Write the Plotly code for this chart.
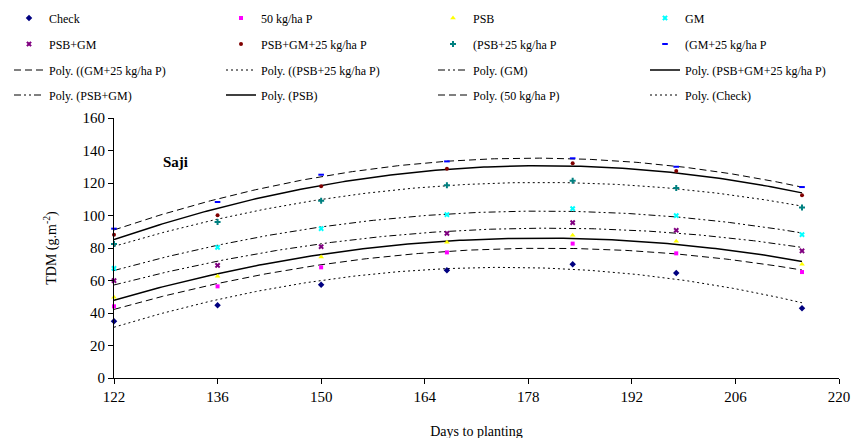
import numpy as np
import plotly.graph_objects as go

# ---- data ----
days = [122, 136, 150, 167, 184, 198, 215]

check        = [34.9, 44.7, 57.4, 66.3, 70.0, 64.6, 42.9]
p50          = [44.1, 56.4, 68.1, 77.3, 82.7, 76.7, 65.2]
psb          = [49.7, 62.6, 74.5, 83.5, 87.8, 84.1, 70.0]
gm           = [67.5, 80.4, 91.9, 100.5, 104.2, 99.9, 88.2]
psb_gm       = [59.9, 69.3, 80.8, 89.0, 95.6, 90.9, 78.2]
psb_gm_p25   = [88.2, 100.1, 118.0, 128.8, 132.1, 127.4, 112.4]
psb_p25      = [82.5, 96.0, 109.1, 118.6, 121.4, 116.9, 105.0]
gm_p25       = [91.9, 108.3, 125.1, 133.3, 135.2, 130.0, 117.5]

x_ticks = [122, 136, 150, 164, 178, 192, 206, 220]
y_ticks = [0, 20, 40, 60, 80, 100, 120, 140, 160]

FONT = "Liberation Serif"

series = [
    # name, values, color, symbol, size
    ("Check", check, "#000080", "diamond", 5),
    ("50 kg/ha P", p50, "#FF00FF", "square", 4),
    ("PSB", psb, "#FFFF00", "triangle-up", 5),
    ("GM", gm, "#00FFFF", "x", 5),
    ("PSB+GM", psb_gm, "#800080", "x", 5),
    ("PSB+GM+25 kg/ha P", psb_gm_p25, "#800000", "circle", 4),
    ("(PSB+25 kg/ha P", psb_p25, "#008080", "cross", 5),
    ("(GM+25 kg/ha P", gm_p25, "#0000FF", "line-ew", 4),
]

# trendline order as in legend: name, source values, dash, width
trends = [
    ("Poly. ((GM+25 kg/ha P)", gm_p25, "7px,4px", 1),
    ("Poly. ((PSB+25 kg/ha P)", psb_p25, "2px,3px", 1),
    ("Poly. (GM)", gm, "7px,3px,2px,3px,2px,3px", 1),
    ("Poly. (PSB+GM+25 kg/ha P)", psb_gm_p25, "solid", 1.5),
    ("Poly. (PSB+GM)", psb_gm, "7px,3px,2px,3px,2px,3px", 1),
    ("Poly. (PSB)", psb, "solid", 1.5),
    ("Poly. (50 kg/ha P)", p50, "7px,4px", 1),
    ("Poly. (Check)", check, "2px,3px", 1),
]

# 4 legend rows, each split in a left half (cols 1-2) and right half (cols 3-4)
legend_ids = ["legend"] + ["legend%d" % k for k in range(2, 9)]
ENTRY_W = 167


def legend_for(row, col):
    return legend_ids[row * 2 + (0 if col < 2 else 1)]


fig = go.Figure()

# trend lines first (under markers)
xfit = np.linspace(days[0], days[-1], 200)
for i, (name, vals, dash, w) in enumerate(trends):
    coef = np.polyfit(days, vals, 2)
    fig.add_trace(go.Scatter(
        x=xfit, y=np.polyval(coef, xfit), mode="lines", name=name,
        line=dict(color="black", width=w, dash=dash),
        legend=legend_for(2 + i // 4, i % 4), hoverinfo="skip",
    ))

for i, (name, vals, color, sym, size) in enumerate(series):
    mk = dict(color=color, symbol=sym, size=size, line=dict(width=0))
    if sym == "line-ew":
        mk = dict(color=color, symbol=sym, size=size, line=dict(color=color, width=2))
    fig.add_trace(go.Scatter(
        x=days, y=vals, mode="markers", name=name, marker=mk,
        cliponaxis=False, legend=legend_for(i // 4, i % 4),
    ))

L, R, T, B = 106, 34, 110, 68
W, H = 865, 438
pw, ph = W - L - R, H - T - B


def px_to_paper_x(px):
    return (px - L) / pw


def px_to_paper_y(py):
    return (H - B - py) / ph


row_y = [10, 36, 62, 87]
half_x = [1, 425]
leg_common = dict(orientation="h", xanchor="left", yanchor="middle",
                  entrywidth=ENTRY_W, entrywidthmode="pixels",
                  font=dict(family=FONT, size=12, color="black"),
                  bgcolor="rgba(0,0,0,0)", borderwidth=0, traceorder="normal")
layout_legends = {}
for r in range(4):
    for h in range(2):
        lid = legend_ids[r * 2 + h]
        layout_legends[lid] = dict(leg_common, x=px_to_paper_x(half_x[h]),
                                   y=px_to_paper_y(row_y[r]))

fig.update_layout(
    width=W, height=H,
    margin=dict(l=L, r=R, t=T, b=B, autoexpand=False),
    paper_bgcolor="white", plot_bgcolor="white",
    font=dict(family=FONT, size=14, color="black"),
    showlegend=True,
    **layout_legends,
    xaxis=dict(
        range=[122, 220], tickvals=x_ticks, ticktext=[str(v) for v in x_ticks],
        showline=True, linecolor="black", linewidth=1,
        ticks="outside", ticklen=5, tickcolor="black",
        showgrid=False, zeroline=False,
        tickfont=dict(family=FONT, size=15),
        title=dict(text="Days to planting", font=dict(family=FONT, size=14), standoff=22),
    ),
    yaxis=dict(
        range=[0, 160], tickvals=y_ticks,
        showline=True, linecolor="black", linewidth=1,
        ticks="outside", ticklen=5, tickcolor="black",
        showgrid=False, zeroline=False,
        tickfont=dict(family=FONT, size=15),
        title=dict(text="TDM (g.m<sup>-2</sup>)", font=dict(family=FONT, size=14), standoff=22),
    ),
    annotations=[dict(
        text="<b>Saji</b>", x=px_to_paper_x(153), y=px_to_paper_y(144),
        xref="paper", yref="paper", showarrow=False,
        font=dict(family=FONT, size=15, color="black"),
    )],
)

fig.write_html("out.html")
